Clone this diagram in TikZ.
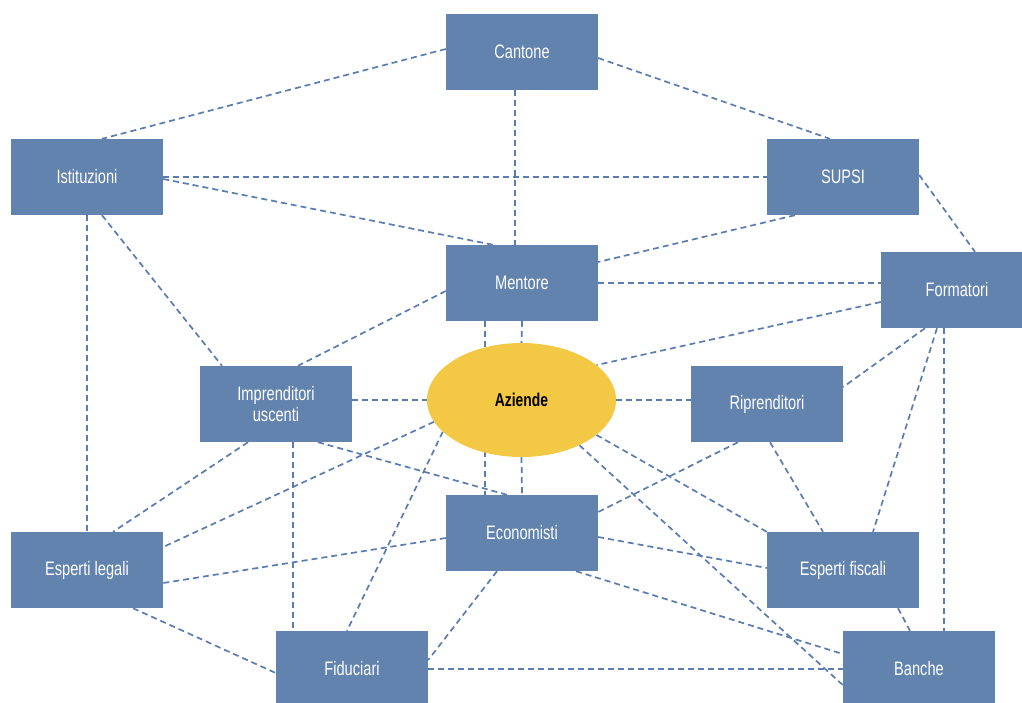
\documentclass[tikz,border=0pt]{standalone}
\usepackage{fontspec}
\setmainfont{Liberation Sans}[FakeStretch=0.75]
\usepackage{tikz}
\usetikzlibrary{
  shapes.geometric,
  backgrounds,
  calc
}
\definecolor{boxblue}{RGB}{97,131,174}
\definecolor{linkblue}{RGB}{91,124,176}
\definecolor{hubyellow}{RGB}{242,200,68}
\tikzset{
  box/.style={
    fill=boxblue,
    text=white,
    minimum width=152pt,
    minimum height=76pt,
    inner sep=0pt,
    align=center,
    font=\fontsize{19.5}{21}\selectfont},
  hub/.style={
    ellipse,
    fill=hubyellow,
    minimum width=189pt,
    minimum height=114pt,
    inner sep=0pt,
    font=\fontsize{18.5}{21}\selectfont\bfseries},
  link/.style={
    draw=linkblue,
    line width=1.7pt,
    dash pattern=on 6pt off 4pt}
  }

\begin{document}
\begin{tikzpicture}[x=1pt,y=-1pt]
    \useasboundingbox (0,0) rectangle (1022,702);
    \node[box] (cant) at (522,52) {Cantone};
    \node[box] (ist) at (87,177) {Istituzioni};
    \node[box] (supsi) at (843,177) {SUPSI};
    \node[box] (ment) at (522,283) {Mentore};
    \node[box] (form) at (957,290) {Formatori};
    \node[box] (imp) at (276,404) {Imprenditori\\uscenti};
    \node[hub] (az) at (521.5,400) {Aziende};
    \node[box] (ripr) at (767,404) {Riprenditori};
    \node[box] (econ) at (522,533) {Economisti};
    \node[box] (leg) at (87,570) {Esperti legali};
    \node[box] (fisc) at (843,570) {Esperti fiscali};
    \node[box] (fid) at (352,669) {Fiduciari};
    \node[box] (ban) at (919,669) {Banche};
    \begin{scope}[on background layer]
    \draw [link]
      ([yshift=3pt]cant.west) edge ([xshift=15pt]ist.north)
      ([yshift=-6pt]cant.east) edge ([xshift=-13pt]supsi.north)
      ([xshift=-7pt]cant.south) edge ([xshift=-7pt]ment.north)
      (ist.east) edge (supsi.west)
      ([yshift=-2pt]ist.east) edge ([xshift=-29pt]ment.north)
      (ist.south) edge (leg.north)
      ([xshift=15pt]ist.south) edge ([xshift=-54pt]imp.north)
      ([xshift=-48pt]supsi.south) edge ([yshift=21pt]ment.east)
      ([yshift=2pt]supsi.east) edge ([xshift=18pt]form.north)
      (ment.east) edge ([yshift=7pt]form.west)
      ([yshift=-8pt]ment.west) edge ([xshift=22pt]imp.north)
      ([xshift=-37pt]ment.south) edge ([xshift=-37pt]econ.north)
      (ment.south) edge (az.north)
      ([yshift=-12pt]form.west) edge (az.25)
      ([xshift=-32pt]form.south) edge ([yshift=17pt]ripr.east)
      ([xshift=-20pt]form.south) edge ([xshift=30pt]fisc.north)
      ([xshift=-13pt]form.south) edge ([xshift=25pt]ban.north)
      (imp.east |- az.west) edge (az.west)
      ([xshift=-28pt]imp.south) edge ([xshift=26pt]leg.north)
      ([xshift=17pt]imp.south) edge ([xshift=-59pt]fid.north)
      ([xshift=42pt]imp.south) edge ([xshift=-15pt]econ.north)
      (az.194) edge ([yshift=23pt]leg.east)
      (az.202) edge ([xshift=-5pt]fid.north)
      (az.east) edge (az.east -| ripr.west)
      (az.335) edge (fisc.north west)
      (az.322) edge ([yshift=-16pt]ban.west)
      (az.south) edge (econ.north)
      ([xshift=-29pt]ripr.south) edge ([yshift=21pt]econ.east)
      ([xshift=3pt]ripr.south) edge ([xshift=-20pt]fisc.north)
      ([yshift=-5pt]econ.west) edge ([yshift=-13pt]leg.east)
      ([yshift=-4pt]econ.east) edge ([yshift=2pt]fisc.west)
      ([xshift=-25pt]econ.south) edge ([yshift=9pt]fid.east)
      ([xshift=54pt]econ.south) edge ([yshift=15pt]ban.west)
      ([xshift=46pt]leg.south) edge ([yshift=-4pt]fid.west)
      ([xshift=55pt]fisc.south) edge ([xshift=-9pt]ban.north)
      (fid.east) edge (ban.west);
    \end{scope}
  \end{tikzpicture}
\end{document}
